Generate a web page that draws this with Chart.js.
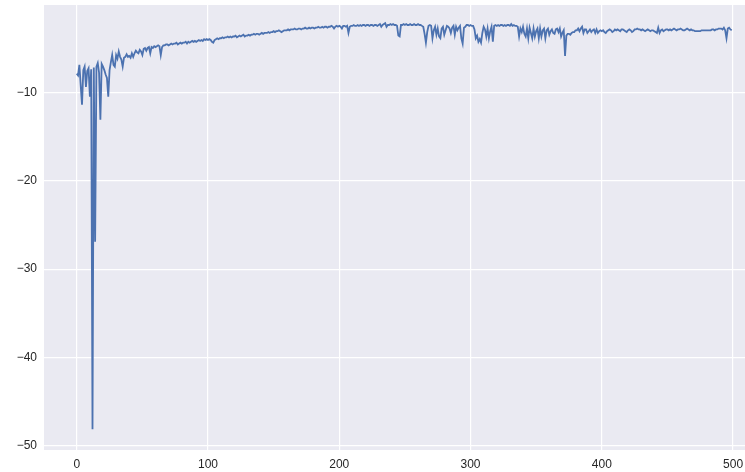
<!DOCTYPE html>
<html>
<head>
<meta charset="utf-8">
<script src="https://cdn.jsdelivr.net/npm/chart.js@4/dist/chart.umd.min.js"></script>
<style>
  body { margin: 0; background: #ffffff; }
  #wrap { width: 745px; height: 472px; }
</style>
</head>
<body>
<div id="wrap"><canvas id="myChart" width="745" height="472"></canvas></div>
<script>
// ==== chart data ====
const xTicks = [0, 100, 200, 300, 400, 500];
const yTicks = [-50, -40, -30, -20, -10];

const vals0 = [
  -7.9, -8.1, -6.9, -9.2, -11.4, -7.5, -7.1, -9.4, -7.6, -7.3,
  -10.5, -7.4, -48.1, -7.2, -26.9, -7.1, -6.7, -7.8, -13.1, -6.8,
  -7.1, -7.5, -8.0, -8.4, -10.5, -7.5, -6.6, -5.8, -6.9, -7.1,
  -5.8, -6.2, -5.4, -6.0, -6.3, -7.1, -6.1, -6.0, -5.7, -6.0,
  -5.9, -6.1, -5.6, -6.0, -5.6, -5.3, -5.5, -5.6, -5.2, -5.4,
  -5.8, -5.1, -5.0, -5.3, -5.0, -4.9, -5.6, -4.9, -5.0, -4.8,
  -4.9, -4.8, -4.7, -4.8, -5.8, -4.9, -4.7, -4.7, -4.6, -4.6,
  -4.7, -4.6, -4.5, -4.6, -4.5, -4.5, -4.4, -4.6, -4.5, -4.4,
  -4.5, -4.4, -4.4, -4.3, -4.5, -4.3, -4.4, -4.3, -4.2, -4.3,
  -4.2, -4.3, -4.2, -4.1, -4.2, -4.1, -4.2, -4.0, -4.1, -4.0
];
const vals1 = [
  -4.1, -4.0, -4.1, -4.3, -4.4, -4.1, -4.0, -3.9, -4.0, -3.9,
  -3.9, -3.8, -3.9, -3.8, -3.8, -3.7, -3.8, -3.7, -3.8, -3.7,
  -3.7, -3.6, -3.8, -3.7, -3.6, -3.7, -3.6, -3.5, -3.7, -3.6,
  -3.6, -3.5, -3.6, -3.5, -3.5, -3.4, -3.5, -3.4, -3.4, -3.5,
  -3.4, -3.3, -3.4, -3.3, -3.3, -3.3, -3.2, -3.3, -3.2, -3.2,
  -3.1, -3.2, -3.1, -3.1, -3.0, -3.1, -3.2, -3.1, -3.0, -3.0,
  -3.0, -2.9, -3.0, -2.9, -2.9, -2.9, -2.8, -2.9, -2.9, -2.8,
  -2.8, -2.9, -2.8, -2.8, -2.7, -2.8, -2.8, -2.7, -2.8, -2.7,
  -2.7, -2.8, -2.7, -2.7, -2.6, -2.7, -2.7, -2.6, -2.7, -2.6,
  -2.6, -2.7, -2.6, -2.6, -2.5, -2.6, -2.8, -2.6, -2.5, -2.6
];
const vals2 = [
  -2.5, -2.6, -2.8, -2.5, -2.5, -2.6, -2.5, -3.3, -2.6, -2.5,
  -2.5, -2.4, -2.5, -2.5, -2.4, -2.5, -2.4, -2.5, -2.4, -2.4,
  -2.5, -2.4, -2.4, -2.5, -2.4, -2.4, -2.5, -2.4, -2.4, -2.5,
  -2.4, -2.3, -2.6, -2.4, -2.3, -2.2, -2.6, -2.4, -2.4, -2.3,
  -2.4, -2.3, -2.4, -2.4, -2.5, -3.6, -3.7, -2.4, -2.4, -2.3,
  -2.4, -2.3, -2.4, -2.4, -2.3, -2.4, -2.4, -2.3, -2.4, -2.4,
  -2.3, -2.4, -2.4, -2.5, -2.6, -3.4, -4.4, -3.2, -2.5, -2.4,
  -2.5, -3.9, -3.0, -2.6, -3.5, -2.8, -3.7, -3.9, -2.8, -2.6,
  -3.5, -3.0, -2.5, -2.6, -2.8, -3.3, -2.7, -2.5, -3.5, -2.6,
  -3.0, -2.7, -2.5, -3.9, -4.5, -2.7, -2.6, -2.4, -2.4, -2.5
];
const vals3 = [
  -2.4, -2.5, -2.5, -2.9, -3.9, -3.6, -4.3, -4.0, -4.4, -3.3,
  -2.6, -2.9, -3.7, -2.8, -3.9, -3.1, -2.6, -4.3, -2.5, -2.4,
  -2.5, -2.4, -2.5, -2.4, -2.4, -2.5, -2.4, -2.5, -2.4, -2.4,
  -2.5, -2.3, -2.5, -2.4, -2.5, -2.5, -2.6, -3.7, -2.8, -3.2,
  -2.6, -3.4, -3.7, -2.8, -3.9, -2.7, -3.3, -3.9, -2.8, -3.7,
  -3.1, -2.8, -3.9, -2.8, -3.7, -3.0, -2.8, -3.9, -3.0, -2.8,
  -3.5, -3.1, -2.9, -3.3, -3.4, -2.9, -2.8, -3.2, -2.8, -3.7,
  -3.3, -3.0, -5.9, -3.6, -3.4, -3.4, -3.5, -3.3, -3.2, -3.2,
  -3.0, -3.0, -2.8, -3.1, -2.8, -2.6, -3.3, -2.9, -2.9, -3.3,
  -3.1, -2.9, -3.2, -3.0, -2.9, -3.3, -2.9, -3.3, -3.1, -3.0
];
const vals4 = [
  -3.1, -3.0, -3.2, -3.3, -3.1, -3.0, -2.9, -3.0, -3.2, -3.1,
  -2.9, -3.0, -2.9, -3.0, -3.1, -2.9, -2.9, -3.0, -3.1, -3.2,
  -3.0, -2.9, -3.0, -3.2, -3.1, -2.9, -2.9, -2.8, -2.9, -2.9,
  -3.0, -2.9, -3.0, -3.1, -3.0, -2.9, -3.0, -3.1, -3.0, -3.0,
  -3.1, -3.2, -3.3, -2.7, -3.3, -3.0, -2.9, -3.1, -3.0, -2.9,
  -2.9, -3.0, -2.9, -3.0, -2.9, -2.8, -2.9, -3.0, -2.9, -2.9,
  -2.8, -2.9, -3.0, -3.0, -2.9, -2.8, -2.9, -3.0, -2.9, -3.0,
  -3.0, -3.1, -3.1, -3.1, -3.1, -3.1, -3.0, -3.0, -3.0, -3.0,
  -3.0, -3.0, -3.0, -3.0, -2.9, -2.9, -3.0, -2.9, -2.9, -2.8,
  -2.8, -2.8, -2.9, -2.7, -3.0, -3.9, -2.8, -2.7, -2.9, -3.0
];

const values = [...vals0, ...vals1, ...vals2, ...vals3, ...vals4];

// ==== plot area background (seaborn darkgrid) ====
const bgPlugin = {
  id: 'plotBg',
  beforeDraw(chart) {
    const { ctx, chartArea } = chart;
    ctx.save();
    ctx.fillStyle = '#EAEAF2';
    ctx.fillRect(chartArea.left, chartArea.top, chartArea.right - chartArea.left, chartArea.bottom - chartArea.top);
    ctx.restore();
  }
};

const minusFmt = (v) => String(v).replace('-', '\u2212');

// no extra room for the tick labels, the plot fills the frame
const noPad = (s) => {
  s.paddingTop = 0;
  s.paddingBottom = 0;
  s.paddingLeft = 0;
  s.paddingRight = 0;
};

const data = {
  datasets: [{
    data: values.map((v, i) => ({ x: i, y: v })),
    borderColor: '#4C72B0',
    borderWidth: 1.8,
    pointRadius: 0,
    tension: 0,
    fill: false
  }]
};

const config = {
  type: 'line',
  data: data,
  plugins: [bgPlugin],
  options: {
    responsive: false,
    animation: false,
    devicePixelRatio: 1,
    layout: { padding: { top: 5, right: 0, left: 0, bottom: 0 } },
    plugins: {
      legend: { display: false },
      tooltip: { enabled: false }
    },
    scales: {
      x: {
        type: 'linear',
        min: -24.95,
        max: 509.1,
        afterBuildTicks: (s) => { s.ticks = xTicks.map(v => ({ value: v })); },
        afterFit: (s) => { s.height = 22; noPad(s); },
        grid: { color: '#ffffff', lineWidth: 1.2, drawTicks: false },
        border: { display: false },
        ticks: {
          color: '#262626',
          font: { family: 'Liberation Sans', size: 12 },
          padding: 7,
          maxRotation: 0,
          callback: minusFmt
        }
      },
      y: {
        type: 'linear',
        min: -50.45,
        max: -0.14,
        afterBuildTicks: (s) => { s.ticks = yTicks.map(v => ({ value: v })); },
        afterFit: (s) => { s.width = 44; noPad(s); },
        grid: { color: '#ffffff', lineWidth: 1.2, drawTicks: false },
        border: { display: false },
        ticks: {
          color: '#262626',
          font: { family: 'Liberation Sans', size: 12 },
          padding: 7,
          callback: minusFmt
        }
      }
    }
  }
};

let myChart = new Chart(document.getElementById('myChart'), config);
</script>
</body>
</html>
